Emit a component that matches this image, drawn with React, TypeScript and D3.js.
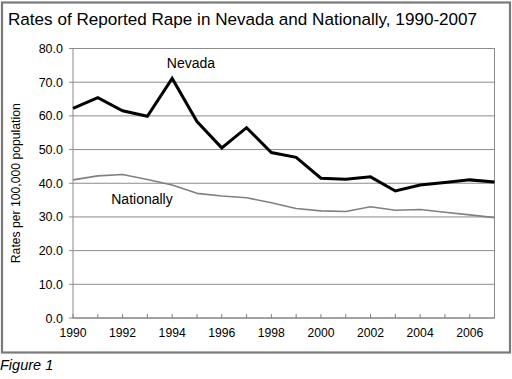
import React from "react";
import * as d3 from "d3";

const years = [1990, 1991, 1992, 1993, 1994, 1995, 1996, 1997, 1998, 1999, 2000, 2001, 2002, 2003, 2004, 2005, 2006, 2007];
const nevada = [62.2, 65.4, 61.5, 59.9, 71.1, 58.3, 50.5, 56.5, 49.1, 47.7, 41.5, 41.2, 41.9, 37.7, 39.5, 40.2, 41.0, 40.4];
const national = [41.0, 42.2, 42.6, 41.1, 39.5, 37.0, 36.2, 35.7, 34.2, 32.5, 31.8, 31.6, 33.0, 32.0, 32.2, 31.4, 30.6, 29.8];
const yTicks = [0, 10, 20, 30, 40, 50, 60, 70, 80];
const xTickLabels = [1990, 1992, 1994, 1996, 1998, 2000, 2002, 2004, 2006];
const title = "Rates of Reported Rape in Nevada and Nationally, 1990-2007";
const yTitle = "Rates per 100,000 population";

export default function App() {
  const W = 512, H = 379;
  const left = 73, right = 494.5, top = 48.5, bottom = 318;
  const x = d3.scaleLinear().domain([1990, 2007]).range([left, right]);
  const y = d3.scaleLinear().domain([0, 80]).range([bottom, top]);
  const line = d3.line<number>().x((_, i) => x(years[i])).y((d) => y(d));
  const font = "'Liberation Sans', Arial, sans-serif";
  return (
    <svg width={W} height={H} style={{ position: "absolute", left: 0, top: 0 }} fontFamily={font}>
      <rect x={0} y={0} width={W} height={H} fill="#fff" />
      <rect x={2} y={2.5} width={508} height={350} fill="#fff" stroke="#7a7a7a" strokeWidth={2.2} />
      <text x={8} y={25} fontSize={17.1} fill="#000">{title}</text>
      {yTicks.map((t) => (
        <g key={t}>
          {t > 0 && t < 80 && (
            <line x1={left} x2={right} y1={y(t)} y2={y(t)} stroke="#8c8c8c" strokeWidth={1} />
          )}
          <line x1={left - 4} x2={left} y1={y(t)} y2={y(t)} stroke="#8c8c8c" strokeWidth={1} />
          <text x={63} y={y(t) + 4.5} fontSize={12.5} textAnchor="end" fill="#000">{t.toFixed(1)}</text>
        </g>
      ))}
      <rect x={left} y={top} width={right - left} height={bottom - top} fill="none" stroke="#8c8c8c" strokeWidth={1} />
      <line x1={left} x2={right} y1={bottom} y2={bottom} stroke="#808080" strokeWidth={1.2} />
      {years.map((yr) => (
        <line key={yr} x1={x(yr)} x2={x(yr)} y1={bottom} y2={bottom - 4} stroke="#808080" strokeWidth={1} />
      ))}
      {xTickLabels.map((yr) => (
        <text key={yr} x={x(yr)} y={bottom + 19} fontSize={12.2} textAnchor="middle" fill="#000">{yr}</text>
      ))}
      <text transform={`translate(19.5,${(top + bottom) / 2 + 0}) rotate(-90)`} fontSize={12.2} textAnchor="middle" fill="#000">{yTitle}</text>
      <path d={line(national) || ""} fill="none" stroke="#808080" strokeWidth={1.6} strokeLinejoin="round" />
      <path d={line(nevada) || ""} fill="none" stroke="#000" strokeWidth={3} strokeLinejoin="miter" />
      <text x={191} y={68} fontSize={14} textAnchor="middle" fill="#000">Nevada</text>
      <text x={142} y={204} fontSize={14} textAnchor="middle" fill="#000">Nationally</text>
      <text x={0} y={370} fontSize={14.5} fontStyle="italic" fill="#000">Figure 1</text>
    </svg>
  );
}
